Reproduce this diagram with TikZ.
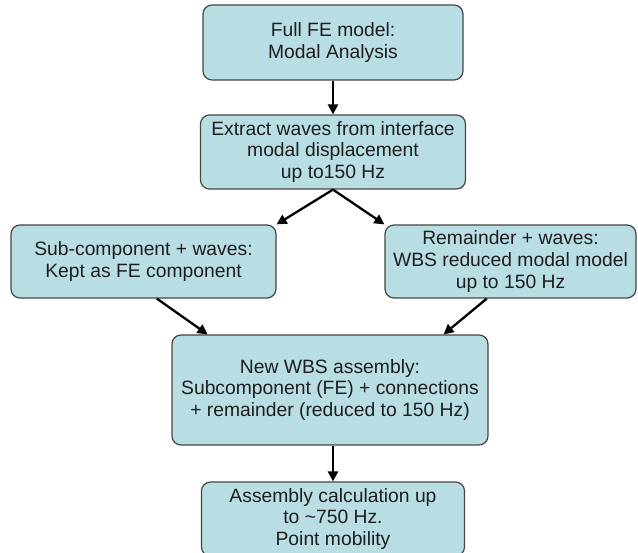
\documentclass[tikz,border=0pt]{standalone}
\usepackage{fontspec}
\setmainfont{Liberation Sans}
\usetikzlibrary{arrows.meta,calc}
\definecolor{boxfill}{RGB}{184,222,228}
\definecolor{boxline}{RGB}{70,70,70}
\definecolor{txt}{RGB}{30,30,30}
\tikzset{
  flowbox/.style={draw=boxline, line width=1.2pt, fill=boxfill, rounded corners=9pt,
    align=center, inner sep=0pt, text=txt, font=\fontsize{19.3}{21.8}\selectfont},
  arr/.style={draw=black, line width=2.3pt, -{Triangle[length=10pt,width=10pt]}}
}
\begin{document}
\begin{tikzpicture}[x=1pt,y=-1pt]
\useasboundingbox (0,0) rectangle (638,553);
\node[flowbox, minimum width=260pt, minimum height=75pt] (b1) at (333,42.5) {Full FE model:\\Modal Analysis};
\node[flowbox, minimum width=265pt, minimum height=74pt] (b2) at (333,152) {Extract waves from interface\\modal displacement\\up to150 Hz};
\node[flowbox, minimum width=265pt, minimum height=73pt] (b3) at (143.5,261.5) {Sub-component + waves:\\Kept as FE component};
\node[flowbox, minimum width=251pt, minimum height=73pt] (b4) at (510.5,261.5) {Remainder + waves:\\WBS reduced modal model\\up to 150 Hz};
\node[flowbox, minimum width=316pt, minimum height=110pt] (b5) at (330,390) {New WBS assembly:\\Subcomponent (FE) + connections\\+ remainder (reduced to 150 Hz)};
\node[flowbox, minimum width=263pt, minimum height=74pt] (b6) at (333,519) {Assembly calculation up\\to \textasciitilde750 Hz.\\Point mobility};
\draw[arr] (b1.south) -- (b2.north);
\draw[arr] (b2.south) -- (b3.north east);
\draw[arr] (b2.south) -- (b4.north west);
\draw[arr] ($(b3.south west)!0.55!(b3.south east)$) -- ($(b5.north west)!0.114!(b5.north east)$);
\draw[arr] ($(b4.south west)!0.406!(b4.south east)$) -- ($(b5.north west)!0.858!(b5.north east)$);
\draw[arr] (b5.south -| b6.north) -- (b6.north);
\end{tikzpicture}
\end{document}
